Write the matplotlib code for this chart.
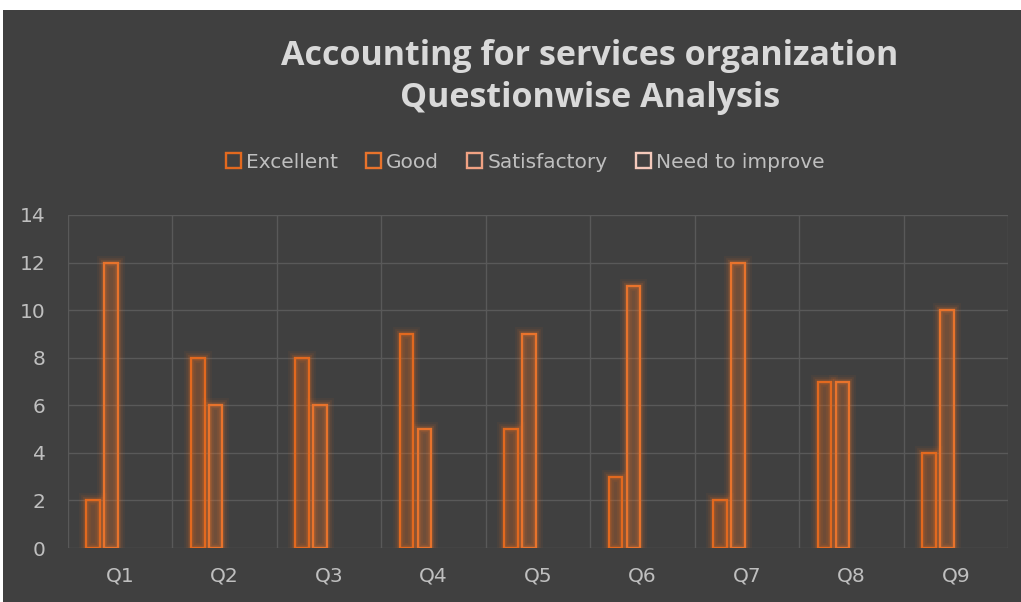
import numpy as np
import matplotlib
matplotlib.use("Agg")
import matplotlib.pyplot as plt
import matplotlib.patches as patches

# chart data
questions = ["Q1", "Q2", "Q3", "Q4", "Q5", "Q6", "Q7", "Q8", "Q9"]
series_names = ["Excellent", "Good", "Satisfactory", "Need to improve"]
excellent = [2, 8, 8, 9, 5, 3, 2, 7, 4]
good = [12, 6, 6, 5, 9, 11, 12, 7, 10]
satisfactory = [0, 0, 0, 0, 0, 0, 0, 0, 0]
need_to_improve = [0, 0, 0, 0, 0, 0, 0, 0, 0]
y_ticks = [0, 2, 4, 6, 8, 10, 12, 14]

series_values = [excellent, good, satisfactory, need_to_improve]
edge_colors = ["#e2691f", "#e8732c", "#f0a283", "#f4c9bb"]

bg = "#404040"
text_col = "#bfbfbf"
grid_col = "#595959"

fig = plt.figure(figsize=(10.21, 6.02), dpi=100)
fig.patch.set_facecolor("white")
# dark chart panel (small white strip at top and left like the screenshot)
fig.add_artist(patches.Rectangle((3 / 1021, 0), 1, 592 / 602, transform=fig.transFigure,
                                 facecolor=bg, edgecolor="none", zorder=0))

ax = fig.add_axes([68 / 1021, 54 / 602, 940 / 1021, 333 / 602])
ax.patch.set_alpha(0)

x = np.arange(len(questions))
slot = 0.172
width = 0.13
for i, (vals, col) in enumerate(zip(series_values, edge_colors)):
    offs = (i - 1.5) * slot
    vals = np.array(vals, dtype=float)
    keep = vals > 0
    if not keep.any():
        continue
    # soft glow around each bar
    for lw, a in [(10, 0.06), (7, 0.09), (4.5, 0.14)]:
        ax.bar(x[keep] + offs, vals[keep], width=width, facecolor="none", edgecolor=col,
               linewidth=lw, alpha=a, zorder=2)
    fill = ax.bar(x[keep] + offs, vals[keep], width=width, facecolor=col, edgecolor="none",
                  zorder=3)
    for b in fill:
        b.set_alpha(0.25)
    ax.bar(x[keep] + offs, vals[keep], width=width, facecolor="none", edgecolor=col,
           linewidth=1.7, zorder=4)

ax.set_xlim(-0.5, len(questions) - 0.5)
ax.set_ylim(0, 14)
ax.set_yticks(y_ticks)
ax.set_xticks(x)
ax.set_xticklabels(questions)
ax.tick_params(axis="both", length=0, colors=text_col, labelsize=14.5)
ax.tick_params(axis="y", pad=16)
ax.tick_params(axis="x", pad=13)

for yv in y_ticks:
    ax.axhline(yv, color=grid_col, lw=1, zorder=1)
for xv in np.arange(-0.5, len(questions), 1.0):
    ax.axvline(xv, color=grid_col, lw=1, zorder=1)
for s in ax.spines.values():
    s.set_visible(False)

fig.text(590 / 1021, 1 - 77 / 602, "Accounting for services organization\nQuestionwise Analysis",
         ha="center", va="center", fontsize=24.5, fontweight="bold", color="#d9d9d9",
         family="Open Sans", linespacing=1.3)

# legend
handles = [patches.Rectangle((0, 0), 1, 1, facecolor="none", edgecolor=c, lw=1.7)
           for c in edge_colors]
leg = fig.legend(handles, series_names, loc="center", bbox_to_anchor=(525 / 1021, 1 - 162 / 602),
                 ncol=4, frameon=False, fontsize=14.5, labelcolor=text_col,
                 handlelength=0.75, handleheight=0.75, handletextpad=0.25, columnspacing=1.4)

fig.savefig("out.png", dpi=100, facecolor=fig.get_facecolor())
